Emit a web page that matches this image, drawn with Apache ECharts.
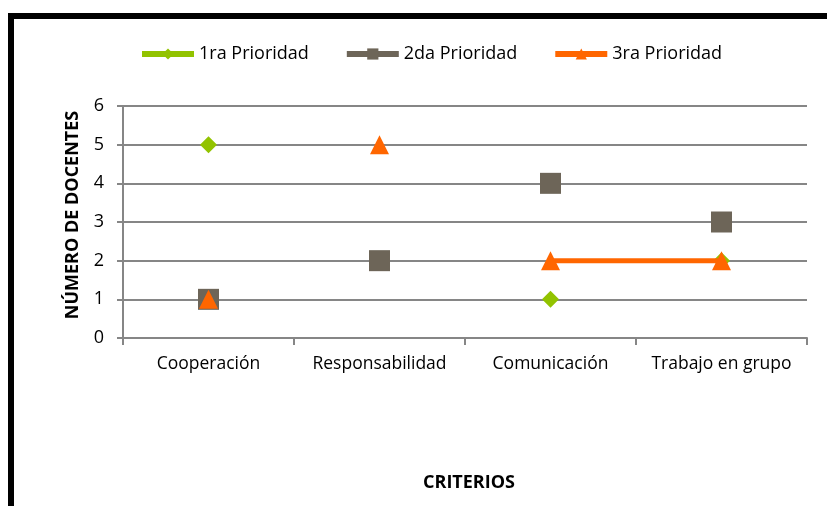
<!DOCTYPE html>
<html><head><meta charset="utf-8">
<script src="https://cdn.jsdelivr.net/npm/echarts@6/dist/echarts.min.js"></script>
<style>html,body{margin:0;padding:0;background:#fff}#c{width:827px;height:506px}</style>
</head><body><div id="c"></div>
<script>
const categories = ['Cooperación', 'Responsabilidad', 'Comunicación', 'Trabajo en grupo'];
const seriesNames = ['1ra Prioridad', '2da Prioridad', '3ra Prioridad'];
const prioridad1 = [5, null, 1, 2];
const prioridad2 = [1, 2, 4, 3];
const prioridad3 = [1, 5, 2, 2];
const segment3 = [null, null, 2, 2];
const yTicks = [0, 1, 2, 3, 4, 5, 6];

const colors = ['#92C300', '#6D6558', '#FF6600'];
const font = '"Open Sans", "Noto Sans", sans-serif';
const chart = echarts.init(document.getElementById('c'));
chart.setOption({
  animation: false,
  graphic: [{
    type: 'rect', shape: { x: 11, y: 16, width: 900, height: 600 },
    style: { fill: 'none', stroke: '#000', lineWidth: 6 }, z: 100
  }],
  legend: {
    top: 40, left: 134, itemGap: 35, itemWidth: 52, itemHeight: 14,
    textStyle: { fontFamily: font, fontSize: 18, color: '#000' },
    data: seriesNames.map((n, i) => ({ name: n, lineStyle: { width: 6, color: colors[i], opacity: 1 } }))
  },
  grid: { left: 123, right: 20, top: 106, bottom: 168 },
  xAxis: {
    type: 'category', data: categories, boundaryGap: true,
    axisLine: { lineStyle: { color: '#868686', width: 2 } },
    axisTick: { show: true, interval: 0, length: 7, lineStyle: { color: '#868686', width: 2 } },
    axisLabel: { interval: 0, fontFamily: font, fontSize: 17.5, color: '#000', margin: 17 },
    name: 'CRITERIOS', nameLocation: 'middle', nameGap: 136,
    nameTextStyle: { fontFamily: font, fontSize: 18, fontWeight: 'bold', color: '#000', padding: [0, 0, 0, 8] }
  },
  yAxis: {
    type: 'value', min: 0, max: 6, interval: 1,
    axisLine: { show: true, lineStyle: { color: '#868686', width: 2 } },
    axisTick: { show: true, length: 6, lineStyle: { color: '#868686', width: 2 } },
    splitLine: { lineStyle: { color: '#868686', width: 2 } },
    axisLabel: { fontFamily: font, fontSize: 18, color: '#000', margin: 19,
      formatter: v => yTicks.includes(v) ? String(v) : '' },
    name: 'NÚMERO DE DOCENTES', nameLocation: 'middle', nameGap: 41, nameRotate: 90,
    nameTextStyle: { fontFamily: font, fontSize: 18, fontWeight: 'bold', color: '#000', padding: [0, 0, 0, 14] }
  },
  series: [
    { name: seriesNames[2] + ' ', type: 'line', data: segment3, showSymbol: false, z: 3,
      lineStyle: { color: colors[2], width: 5 }, itemStyle: { color: colors[2] } },
    { name: seriesNames[0], type: 'line', data: prioridad1, symbol: 'diamond', symbolSize: 17, z: 2,
      lineStyle: { width: 0, color: colors[0] }, itemStyle: { color: colors[0] } },
    { name: seriesNames[1], type: 'line', data: prioridad2, symbol: 'rect', symbolSize: 21, z: 4,
      lineStyle: { width: 0, color: colors[1] }, itemStyle: { color: colors[1] } },
    { name: seriesNames[2], type: 'line', data: prioridad3, symbol: 'triangle', symbolSize: [19, 19], z: 5,
      lineStyle: { width: 0, color: colors[2] }, itemStyle: { color: colors[2] } }
  ]
});
</script></body></html>
